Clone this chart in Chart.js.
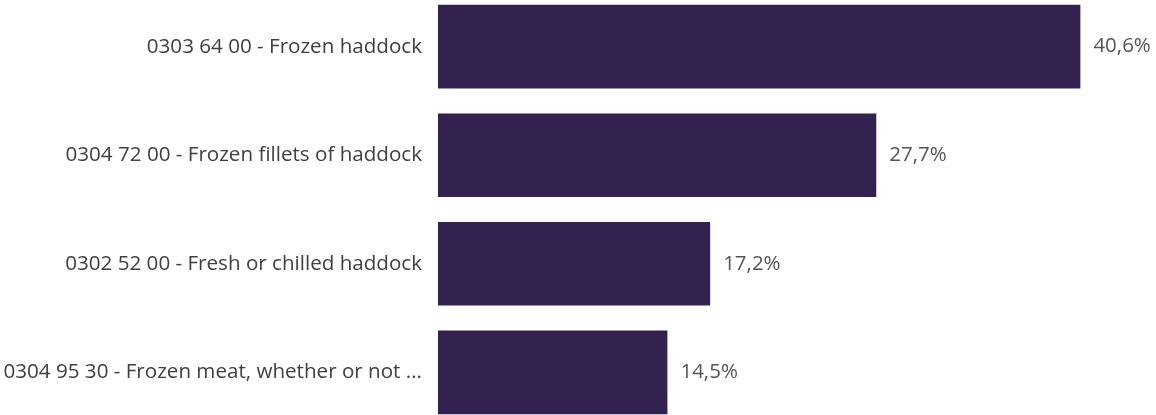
<!DOCTYPE html>
<html>
<head>
<meta charset="utf-8">
<script src="https://cdn.jsdelivr.net/npm/chart.js@4"></script>
<style>
  html, body { margin: 0; padding: 0; background: #fff; overflow: hidden; }
  #chart { position: absolute; left: 0; top: -28px; }
</style>
</head>
<body>
<canvas id="chart" width="1156" height="475"></canvas>
<script>
// data
var categories = [
    "0303 64 00 - Frozen haddock",
    "0304 72 00 - Frozen fillets of haddock",
    "0302 52 00 - Fresh or chilled haddock",
    "0304 95 30 - Frozen meat, whether or not ..."
];
var shares = [40.6, 27.7, 17.2, 14.5];

var barColor = "#33224f";
var textFont = "'Open Sans', 'Noto Sans', sans-serif";

// value labels at the end of each bar
var valueLabels = {
    id: "valueLabels",
    afterDatasetsDraw: function(chart) {
        var ctx = chart.ctx;
        var meta = chart.getDatasetMeta(0);
        ctx.save();
        ctx.font = "20.5px " + textFont;
        ctx.fillStyle = "#555555";
        ctx.textAlign = "left";
        ctx.textBaseline = "middle";
        meta.data.forEach(function(bar, i) {
            var txt = shares[i].toFixed(1).replace(".", ",") + "%";
            ctx.fillText(txt, bar.x + 13, bar.y);
        });
        ctx.restore();
    }
};

new Chart(document.getElementById("chart"), {
    type: "bar",
    data: {
        labels: categories,
        datasets: [{
            data: shares,
            backgroundColor: barColor,
            borderWidth: 0,
            categoryPercentage: 0.77,
            barPercentage: 1.0
        }]
    },
    options: {
        indexAxis: "y",
        responsive: false,
        animation: false,
        layout: { padding: { left: 0, right: 6, top: 0, bottom: 0 } },
        plugins: {
            legend: { display: false },
            tooltip: { enabled: false }
        },
        scales: {
            x: {
                min: 0,
                max: 45,
                display: false
            },
            y: {
                grid: { display: false },
                border: { display: false },
                ticks: {
                    color: "#404040",
                    padding: 8,
                    font: { family: textFont, size: 20.6 }
                },
                afterFit: function(scale) { scale.width = 438; }
            }
        }
    },
    plugins: [valueLabels]
});
</script>
</body>
</html>
